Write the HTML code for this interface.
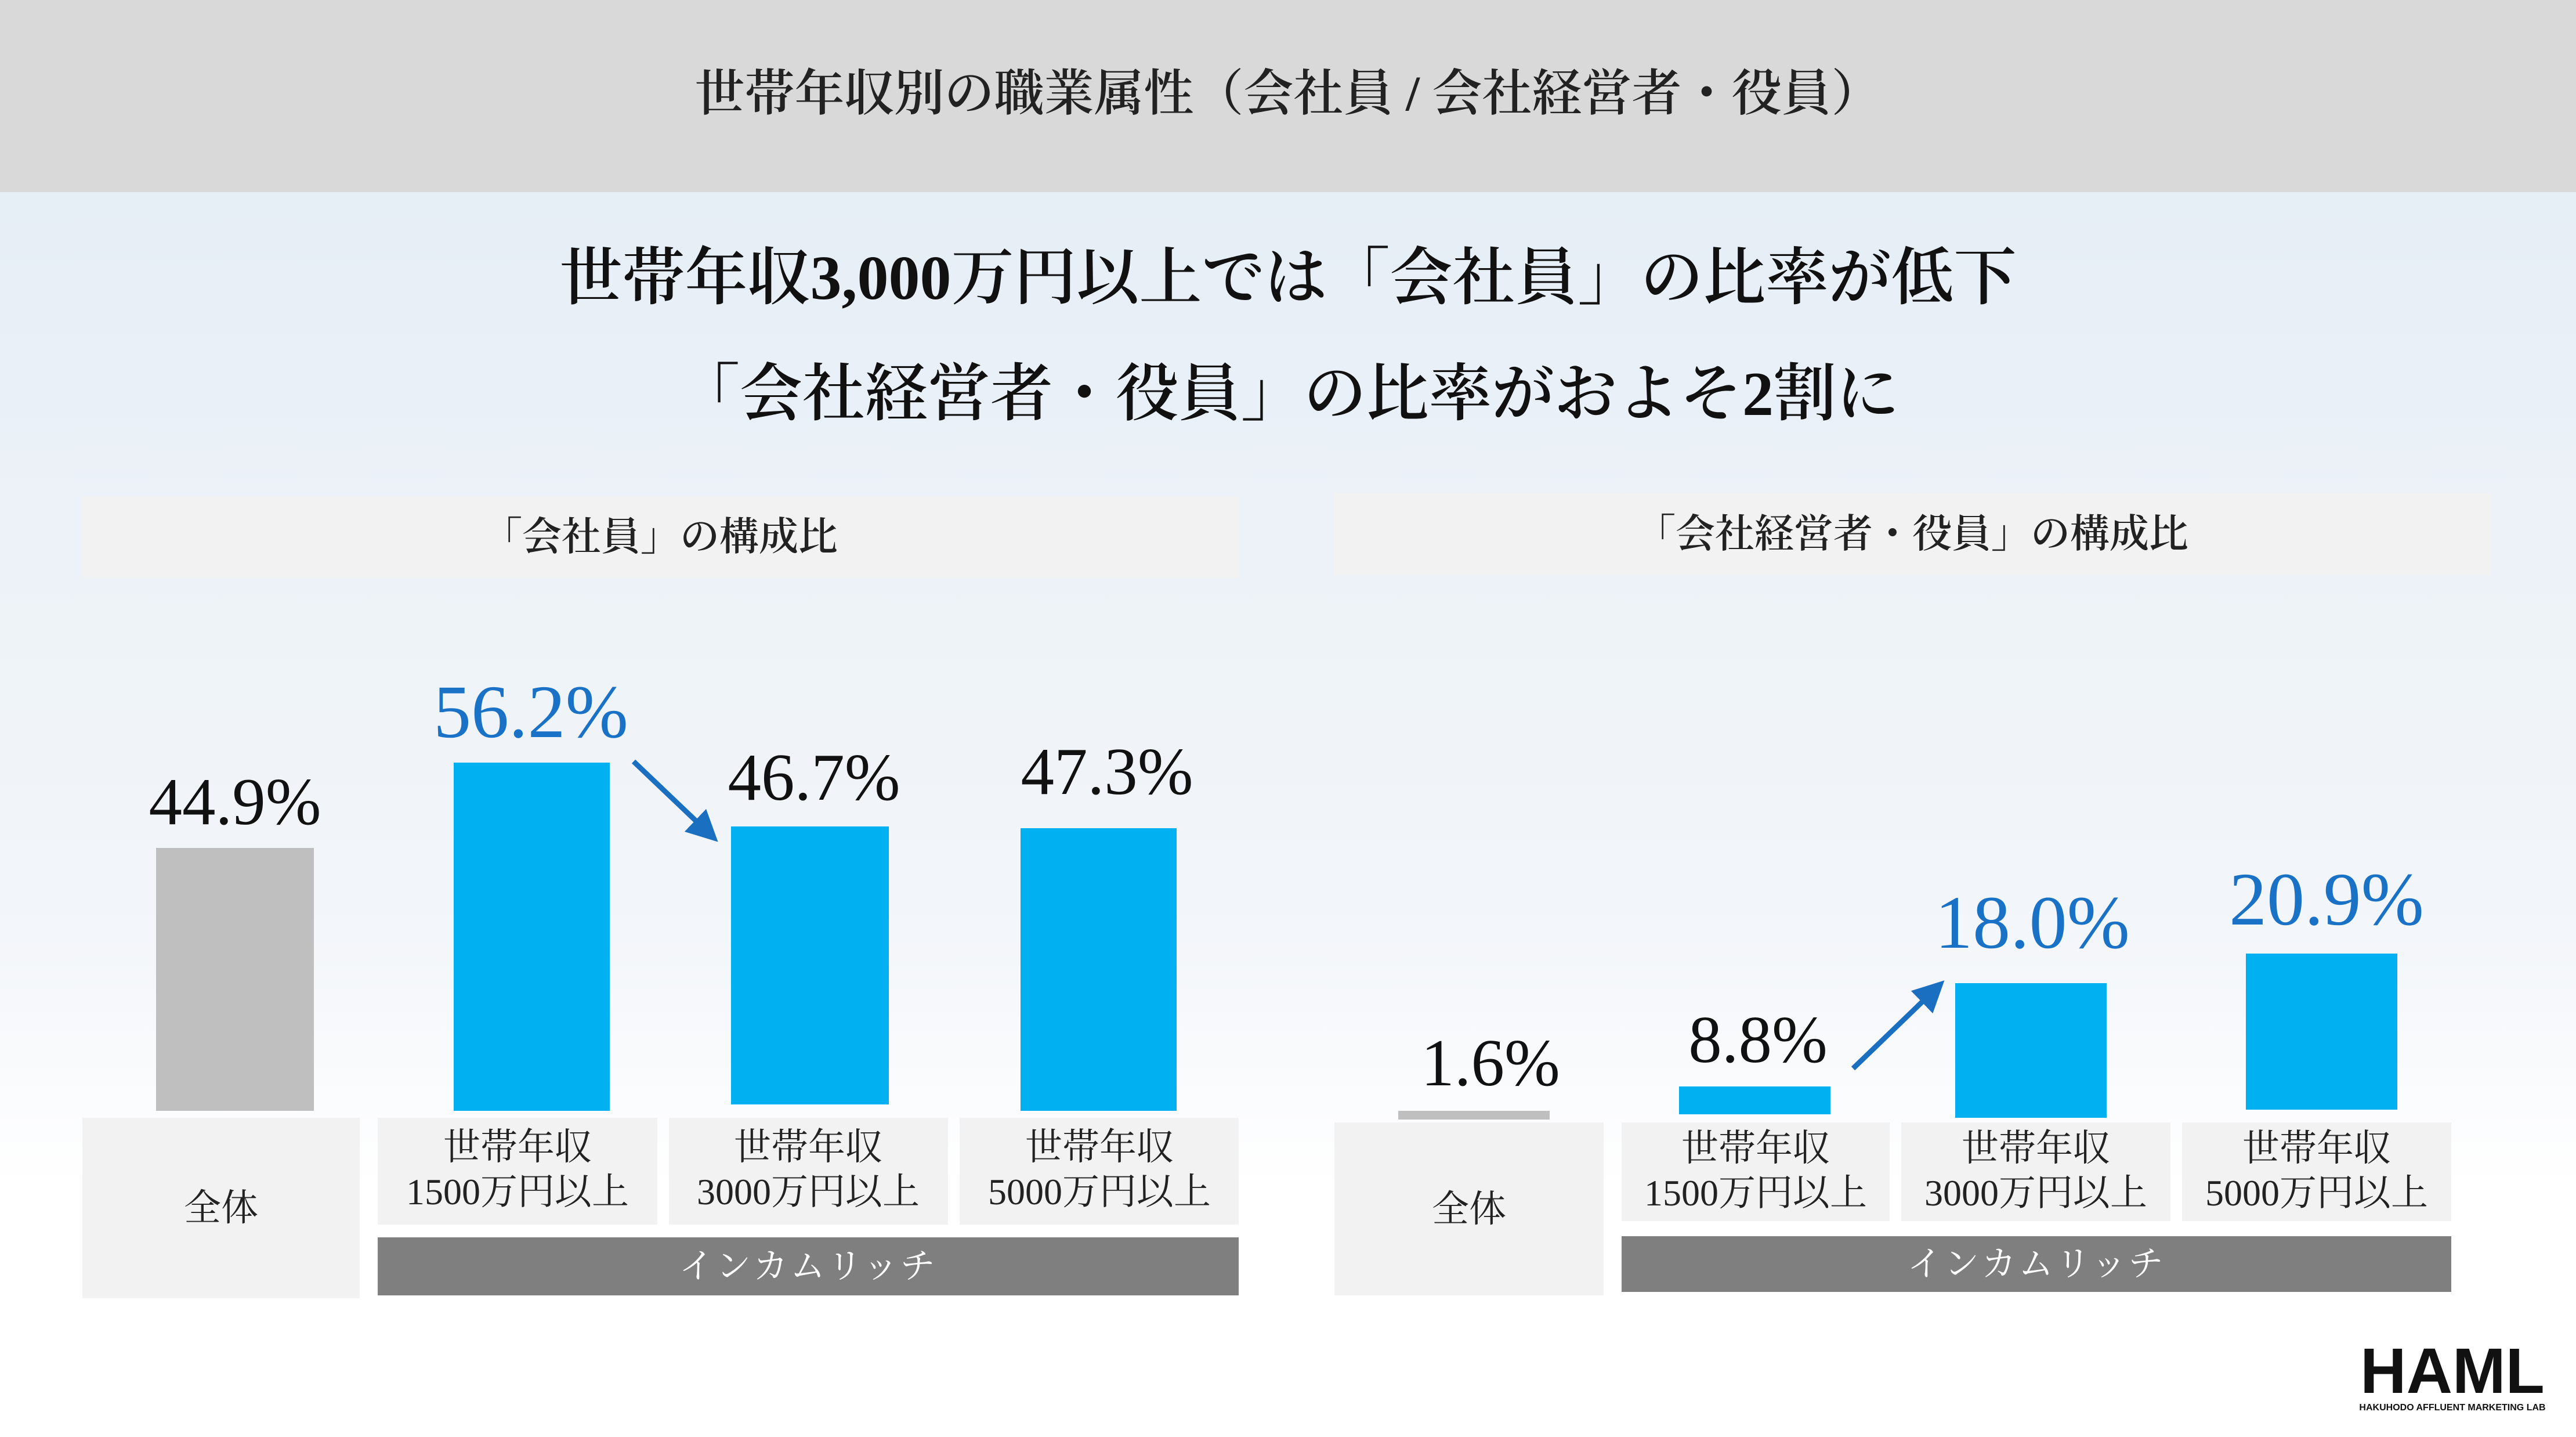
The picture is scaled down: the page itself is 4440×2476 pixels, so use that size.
<!DOCTYPE html>
<html><head><meta charset="utf-8"><style>
html,body{margin:0;padding:0;width:4440px;height:2476px;overflow:hidden;background:#fff}
svg{display:block}
text{font-family:"Liberation Serif","Noto Serif CJK JP","Noto Serif CJK SC",serif}
</style></head><body>
<svg width="4440" height="2476" viewBox="0 0 4440 2476" xmlns="http://www.w3.org/2000/svg">
<defs>
<linearGradient id="bg" x1="0" y1="0" x2="0" y2="1">
<stop offset="0" stop-color="#e6eef6"/>
<stop offset="0.35" stop-color="#eef3f8"/>
<stop offset="0.6" stop-color="#f3f6fa"/>
<stop offset="0.8" stop-color="#ffffff"/>
<stop offset="1" stop-color="#ffffff"/>
</linearGradient>
<marker id="ah" markerWidth="6" markerHeight="6" refX="3" refY="3" orient="auto" markerUnits="strokeWidth">
<path d="M0,0 L6,3 L0,6 z" fill="#1a6fc0"/>
</marker>
</defs>
<rect x="0" y="331" width="4440" height="2145" fill="url(#bg)"/>
<rect x="0" y="0" width="4440" height="331" fill="#d9d9d9"/>
<text x="2220" y="190" font-size="86" text-anchor="middle" fill="#222" font-weight="600">世帯年収別の職業属性（会社員 / 会社経営者・役員）</text>
<text x="2220" y="515" font-size="108" text-anchor="middle" fill="#111" font-weight="600">世帯年収3,000万円以上では「会社員」の比率が低下</text>
<text x="2220" y="715" font-size="108" text-anchor="middle" fill="#111" font-weight="600">「会社経営者・役員」の比率がおよそ2割に</text>

<!-- Left panel -->
<rect x="142" y="855" width="1993" height="142" fill="#f2f2f2"/>
<text x="1138" y="948" font-size="68" text-anchor="middle" fill="#222" font-weight="600">「会社員」の構成比</text>
<rect x="269" y="1461" width="272" height="453" fill="#bfbfbf"/>
<rect x="782" y="1314" width="269" height="600" fill="#00b0f0"/>
<rect x="1260" y="1424" width="272" height="479" fill="#00b0f0"/>
<rect x="1759" y="1427" width="269" height="487" fill="#00b0f0"/>
<text x="405" y="1420" font-size="115" text-anchor="middle" fill="#111" font-weight="500">44.9%</text>
<text x="915" y="1270" font-size="130" text-anchor="middle" fill="#1a72c6" font-weight="500">56.2%</text>
<text x="1403" y="1378" font-size="115" text-anchor="middle" fill="#111" font-weight="500">46.7%</text>
<text x="1908" y="1368" font-size="115" text-anchor="middle" fill="#111" font-weight="500">47.3%</text>
<line x1="1092" y1="1312" x2="1218" y2="1432" stroke="#1a6fc0" stroke-width="9" marker-end="url(#ah)"/>
<rect x="142" y="1926" width="478" height="311" fill="#f2f2f2"/>
<rect x="651" y="1926" width="482" height="184" fill="#f2f2f2"/>
<rect x="1153" y="1926" width="481" height="184" fill="#f2f2f2"/>
<rect x="1654" y="1926" width="481" height="184" fill="#f2f2f2"/>
<text x="381" y="2103" font-size="64" text-anchor="middle" fill="#222">全体</text>
<text x="892" y="1998" font-size="64" text-anchor="middle" fill="#222">世帯年収</text>
<text x="892" y="2075" font-size="64" text-anchor="middle" fill="#222">1500万円以上</text>
<text x="1393" y="1998" font-size="64" text-anchor="middle" fill="#222">世帯年収</text>
<text x="1393" y="2075" font-size="64" text-anchor="middle" fill="#222">3000万円以上</text>
<text x="1895" y="1998" font-size="64" text-anchor="middle" fill="#222">世帯年収</text>
<text x="1895" y="2075" font-size="64" text-anchor="middle" fill="#222">5000万円以上</text>
<rect x="651" y="2132" width="1484" height="100" fill="#7f7f7f"/>
<text x="1393" y="2202" font-size="60" text-anchor="middle" fill="#fff" letter-spacing="4">インカムリッチ</text>

<!-- Right panel -->
<rect x="2300" y="850" width="1993" height="141" fill="#f2f2f2"/>
<text x="3296" y="943" font-size="68" text-anchor="middle" fill="#222" font-weight="600">「会社経営者・役員」の構成比</text>
<rect x="2410" y="1914" width="261" height="15" fill="#bfbfbf"/>
<rect x="2894" y="1872" width="261" height="48" fill="#00b0f0"/>
<rect x="3370" y="1694" width="261" height="232" fill="#00b0f0"/>
<rect x="3871" y="1643" width="261" height="269" fill="#00b0f0"/>
<text x="2569" y="1870" font-size="115" text-anchor="middle" fill="#111" font-weight="500">1.6%</text>
<text x="3030" y="1830" font-size="115" text-anchor="middle" fill="#111" font-weight="500">8.8%</text>
<text x="3503" y="1633" font-size="130" text-anchor="middle" fill="#1a72c6" font-weight="500">18.0%</text>
<text x="4010" y="1593" font-size="130" text-anchor="middle" fill="#1a72c6" font-weight="500">20.9%</text>
<line x1="3194" y1="1841" x2="3332" y2="1708" stroke="#1a6fc0" stroke-width="9" marker-end="url(#ah)"/>
<rect x="2300" y="1934" width="464" height="298" fill="#f2f2f2"/>
<rect x="2795" y="1934" width="462" height="170" fill="#f2f2f2"/>
<rect x="3277" y="1934" width="464" height="170" fill="#f2f2f2"/>
<rect x="3761" y="1934" width="464" height="170" fill="#f2f2f2"/>
<text x="2532" y="2105" font-size="64" text-anchor="middle" fill="#222">全体</text>
<text x="3026" y="2000" font-size="64" text-anchor="middle" fill="#222">世帯年収</text>
<text x="3026" y="2077" font-size="64" text-anchor="middle" fill="#222">1500万円以上</text>
<text x="3509" y="2000" font-size="64" text-anchor="middle" fill="#222">世帯年収</text>
<text x="3509" y="2077" font-size="64" text-anchor="middle" fill="#222">3000万円以上</text>
<text x="3993" y="2000" font-size="64" text-anchor="middle" fill="#222">世帯年収</text>
<text x="3993" y="2077" font-size="64" text-anchor="middle" fill="#222">5000万円以上</text>
<rect x="2795" y="2130" width="1430" height="96" fill="#7f7f7f"/>
<text x="3510" y="2198" font-size="60" text-anchor="middle" fill="#fff" letter-spacing="4">インカムリッチ</text>

<!-- Logo -->
<text x="4227" y="2400" font-size="110" text-anchor="middle" fill="#111" style="font-family:'Liberation Sans',sans-serif" font-weight="bold">HAML</text>
<text x="4227" y="2430" font-size="16" text-anchor="middle" fill="#111" style="font-family:'Liberation Sans',sans-serif" font-weight="bold">HAKUHODO AFFLUENT MARKETING LAB</text>
</svg>
</body></html>
